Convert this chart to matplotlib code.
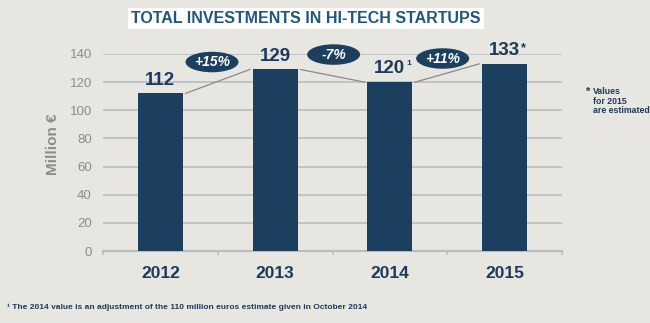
import matplotlib
matplotlib.use("Agg")
import matplotlib.pyplot as plt
from matplotlib import font_manager
from matplotlib.patches import Ellipse, Rectangle

# Data
years = ["2012", "2013", "2014", "2015"]
investments = [112, 129, 120, 133]
value_marks = ["", "", "1", "*"]
y_ticks = [0, 20, 40, 60, 80, 100, 120, 140]

title = "TOTAL INVESTMENTS IN HI-TECH STARTUPS"
y_label = "Million €"
side_note = "Values\nfor 2015\nare estimated"
footnote = "¹ The 2014 value is an adjustment of the 110 million euros estimate given in October 2014"

# Fonts
available = {f.name for f in font_manager.fontManager.ttflist}
narrow = "Liberation Sans Narrow" if "Liberation Sans Narrow" in available else "Liberation Sans"
plt.rcParams["font.family"] = ["Liberation Sans", "DejaVu Sans"]

# Colours
BG = "#e7e6e0"
BAR = "#1c3f60"
NAVY = "#1d3a5c"
TITLE_BLUE = "#1d5680"
GRID = "#b8bcc6"
GRAY_TXT = "#8c8c8c"
CONNECT = "#8a8a8a"

W, H = 650, 323
fig = plt.figure(figsize=(W / 100, H / 100), dpi=100, facecolor=BG)

# Title banner
fig.add_artist(Rectangle((128 / W, 1 - 29 / H), 356 / W, 21 / H,
                         transform=fig.transFigure, facecolor="white",
                         edgecolor="none"))
fig.text(306 / W, 1 - 18.5 / H, title, ha="center", va="center",
         fontsize=11.5, fontweight="bold", color=TITLE_BLUE, family=[narrow])

ax = fig.add_axes([103 / W, (H - 251) / H, (562 - 103) / W, (251 - 54) / H])
ax.set_facecolor(BG)

x = list(range(len(years)))
bar_w = 0.39
ax.bar(x, investments, width=bar_w, color=BAR, zorder=3)

ax.set_xlim(-0.5, len(years) - 0.5)
ax.set_ylim(0, 140)
ax.set_yticks(y_ticks)
ax.set_yticklabels([str(t) for t in y_ticks])
ax.tick_params(axis="y", length=0, pad=8, labelsize=9.5, labelcolor=GRAY_TXT)
ax.yaxis.grid(True, color=GRID, lw=1.2, zorder=0)
ax.set_axisbelow(True)

ax.set_xticks(x)
ax.set_xticklabels(years, family=[narrow], fontweight="bold")
ax.tick_params(axis="x", which="major", length=0, pad=11, labelsize=12.5,
               labelcolor=NAVY)
ax.set_xticks([i - 0.5 for i in range(len(years) + 1)], minor=True)
ax.tick_params(axis="x", which="minor", length=3, width=1.2, color=GRID,
               direction="out")

for s in ("left", "right", "top"):
    ax.spines[s].set_visible(False)
ax.spines["bottom"].set_color(GRID)
ax.spines["bottom"].set_linewidth(1.5)

# Value labels above bars, with reference marks after the number
for i, (v, mark) in enumerate(zip(investments, value_marks)):
    t = ax.annotate(str(v), (i, v), xytext=(0, 3.5), textcoords="offset points",
                    ha="center", va="bottom", fontsize=13.5, fontweight="bold",
                    color=NAVY, family=[narrow], zorder=5)
    if mark:
        size = 6 if mark == "1" else 9
        ax.annotate(mark, xy=(1, 1), xycoords=t, xytext=(0.8, 0),
                    textcoords="offset points", ha="left", va="top",
                    fontsize=size, fontweight="bold", color=NAVY, zorder=5)

# Connectors and change badges between consecutive years
gap = 0.22
badge_pos = [(0.45, 134.3), (1.51, 139.6), (2.46, 136.8)]
for i in range(len(years) - 1):
    a, b = investments[i], investments[i + 1]
    ax.plot([i + gap, i + 1 - gap], [a, b], color=CONNECT, lw=0.9,
            zorder=2, clip_on=False)
    pct = round((b / a - 1) * 100)
    label = f"+{pct}%" if pct > 0 else f"{pct}%"
    bx, by = badge_pos[i]
    ax.add_patch(Ellipse((bx, by), 53 / 114.75, 20.5 / 1.407, facecolor=BAR,
                         edgecolor="none", zorder=6, clip_on=False))
    ax.text(bx, by, label, ha="center", va="center", fontsize=10,
            fontweight="bold", fontstyle="italic", color="white", zorder=7)

# Axis title
fig.text(53 / W, 1 - 144 / H, y_label, rotation=90, ha="center", va="center",
         fontsize=11, fontweight="bold", color=GRAY_TXT, family=[narrow])

# Side note
fig.text(586 / W, 1 - 92 / H, "*", ha="left", va="center", fontsize=8,
         fontweight="bold", color=NAVY)
fig.text(593 / W, 1 - 87 / H, side_note, ha="left", va="top", fontsize=6.3,
         color=NAVY, linespacing=1.1, family=[narrow], fontweight="bold")

# Footnote
fig.text(7 / W, 1 - 307 / H, footnote, ha="left", va="center", fontsize=6.0,
         color=NAVY, family=[narrow], fontweight="bold")

fig.savefig("out.png", dpi=100, facecolor=BG)
